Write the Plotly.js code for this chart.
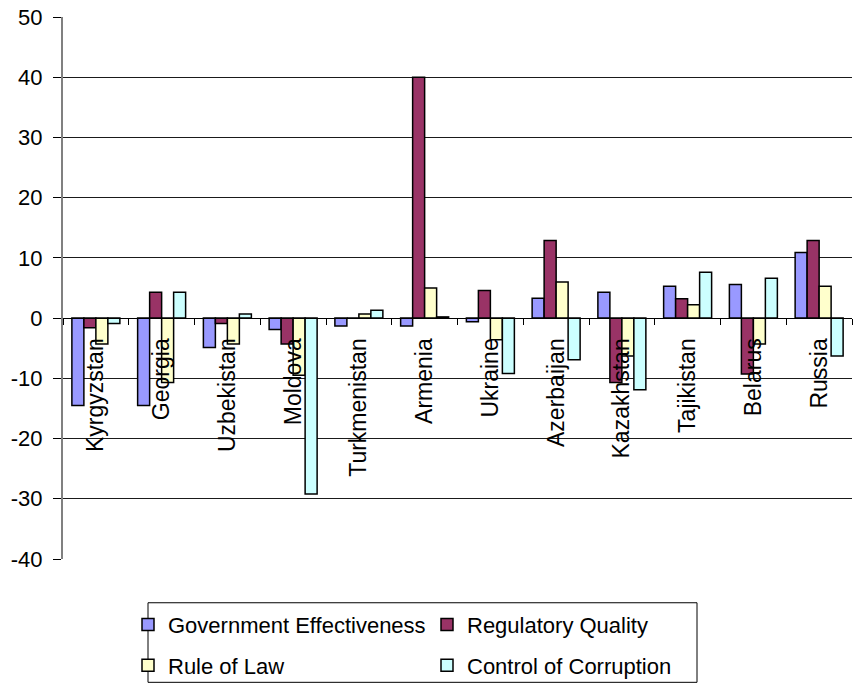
<!DOCTYPE html>
<html>
<head>
<meta charset="utf-8">
<script src="https://cdn.plot.ly/plotly-3.0.1.min.js"></script>
<style>html,body{margin:0;padding:0;background:#fff;}#chart{width:857px;height:691px;}</style>
</head>
<body>
<div id="chart"></div>
<script>
const countries = ["Kyrgyzstan","Georgia","Uzbekistan","Moldova","Turkmenistan","Armenia","Ukraine","Azerbaijan","Kazakhstan","Tajikistan","Belarus","Russia"];
const governmentEffectiveness = [-14.5,-14.5,-4.9,-1.9,-1.3,-1.3,-0.6,3.3,4.3,5.3,5.6,10.9];
const regulatoryQuality = [-1.6,4.3,-0.9,-4.3,0,40.0,4.6,12.9,-10.7,3.2,-9.3,12.9];
const ruleOfLaw = [-4.3,-10.7,-4.3,-9.5,0.7,5.0,-3.6,6.0,-6.3,2.2,-4.3,5.3];
const controlOfCorruption = [-0.9,4.3,0.7,-29.2,1.3,0.2,-9.2,-6.9,-11.9,7.6,6.6,-6.3];
const seriesNames = ["Government Effectiveness","Regulatory Quality","Rule of Law","Control of Corruption"];
const seriesColors = ["#9999FF","#993366","#FFFFCC","#CCFFFF"];
const yTickValues = [-40,-30,-20,-10,0,10,20,30,40,50];
const yTickLabels = ["-40","-30","-20","-10","0","10","20","30","40","50"];

const seriesValues = [governmentEffectiveness, regulatoryQuality, ruleOfLaw, controlOfCorruption];
const legendOf = ["legend","legend","legend2","legend2"];

const FONT = "Liberation Sans, Arial, sans-serif";
const traces = seriesValues.map((vals, i) => ({
  type: "bar",
  name: seriesNames[i],
  x: countries,
  y: vals,
  legend: legendOf[i],
  marker: {color: seriesColors[i], line: {color: "#000", width: 1.5}},
  hoverinfo: "x+y+name"
}));

const W = 857, H = 691, L = 63, R = 5, T = 17, B = 129;
const pw = W - L - R, ph = H - T - B;
const px = v => (v - L) / pw;
const py = v => (H - B - v) / ph;

const legendCommon = {
  orientation: "h", xanchor: "left", yanchor: "top",
  bgcolor: "rgba(0,0,0,0)", borderwidth: 0,
  font: {family: FONT, size: 22, color: "#000"},
  entrywidth: 254, entrywidthmode: "pixels", traceorder: "normal"
};

const layout = {
  width: W, height: H,
  margin: {l: L, r: R, t: T, b: B, pad: 0},
  paper_bgcolor: "#fff", plot_bgcolor: "#fff",
  font: {family: FONT, size: 20, color: "#000"},
  barmode: "group", bargap: 0.27, bargroupgap: 0,
  showlegend: true,
  xaxis: {
    type: "category",
    anchor: "free", position: 40/90,
    showline: true, linecolor: "#000", linewidth: 1,
    showgrid: false, zeroline: false,
    ticks: "outside", ticklen: 6, tickcolor: "#000", tickson: "boundaries",
    tickangle: -90, ticklabelstandoff: 10,
    tickfont: {family: FONT, size: 23, color: "#000"}
  },
  yaxis: {
    range: [-40, 50],
    tickmode: "array", tickvals: yTickValues, ticktext: yTickLabels,
    showline: true, linecolor: "#808080", linewidth: 2,
    showgrid: true, gridcolor: "#1a1a1a", gridwidth: 1,
    zeroline: true, zerolinecolor: "#000", zerolinewidth: 1,
    ticks: "outside", ticklen: 8, tickcolor: "#000",
    ticklabelstandoff: 6,
    tickfont: {family: FONT, size: 22, color: "#000"}
  },
  legend: Object.assign({}, legendCommon, {x: px(128), y: py(607)}),
  legend2: Object.assign({}, legendCommon, {x: px(128), y: py(648)}),
  shapes: [{
    type: "rect", xref: "paper", yref: "paper",
    x0: px(148), x1: px(697), y0: py(606), y1: py(686),
    line: {color: "#000", width: 1}, fillcolor: "rgba(0,0,0,0)"
  }]
};

Plotly.newPlot("chart", traces, layout, {displayModeBar: false, staticPlot: true});
</script>
</body>
</html>
